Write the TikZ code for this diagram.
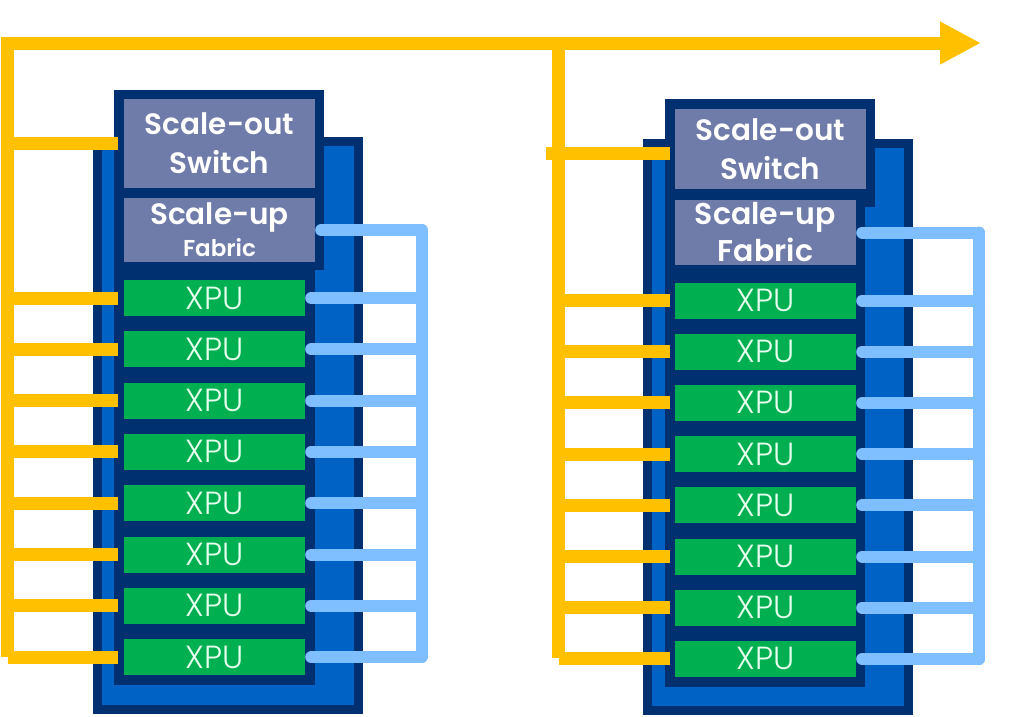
\documentclass[tikz,border=0pt]{standalone}
\usepackage{fontspec}
\setmainfont{Poppins}
\newfontfamily\semib{Poppins SemiBold}
\newfontfamily\lightf{Poppins Light}
\usetikzlibrary{arrows.meta}
\definecolor{ygold}{HTML}{FFC000}
\definecolor{navy}{HTML}{003070}
\definecolor{rackblue}{HTML}{0062C4}
\definecolor{slate}{HTML}{6F7BA8}
\definecolor{xgreen}{HTML}{00B050}
\definecolor{lblue}{HTML}{80BFFF}
\definecolor{xtext}{HTML}{E6FFEE}
\begin{document}
\begin{tikzpicture}[x=1pt,y=-1pt,
  ctl/.style={fill=slate, text=white, inner sep=0pt, align=center, font=\semib\fontsize{29.5}{39}\selectfont},
  xpu/.style={fill=xgreen, text=xtext, inner sep=0pt, minimum width=181pt, minimum height=36pt, font=\lightf\fontsize{32}{36}\selectfont},
  ybus/.style={draw=ygold, line width=13pt},
  bbus/.style={draw=lblue, line width=12pt, line cap=round},
]
\useasboundingbox (0,0) rectangle (1024,716);
% racks
\fill[navy] (93,137) rectangle (363,714);
\fill[rackblue] (102,146) rectangle (354,705);
\fill[navy] (114,90) rectangle (324,270);
\fill[navy] (114,260) rectangle (315,685);
\fill[navy] (643,139) rectangle (913,715);
\fill[rackblue] (652,148) rectangle (904,706);
\fill[navy] (665,99) rectangle (875,207);
\fill[navy] (665,200) rectangle (865,687);
% nodes
\node[ctl, minimum width=191pt, minimum height=89pt] (LS) at (219.5,143.5) {Scale-out\\Switch};
\node[ctl, minimum width=191pt, minimum height=64pt] (LF) at (219.5,230) {Scale-up\\[-7pt]{\fontsize{23}{26}\selectfont Fabric}};
\node[ctl, minimum width=191pt, minimum height=80pt] (RS) at (770.5,149) {Scale-out\\Switch};
\node[ctl, minimum width=181pt, minimum height=65pt, font=\semib\fontsize{30}{37}\selectfont] (RF) at (765.5,232.5) {Scale-up\\Fabric};
\foreach \i in {1,...,8}{
  \node[xpu] (L\i) at (214.5,{298+51.3*(\i-1)}) {XPU};
  \node[xpu] (R\i) at (765.5,{300.5+51.2*(\i-1)}) {XPU};
}
% yellow scale-out network
\coordinate (ylb) at (7.5,657);
\coordinate (ytop) at (7.5,43);
\coordinate (yend) at (981,43);
\coordinate (yrt) at (558.5,43);
\coordinate (yrb) at (558.5,658);
\draw[ybus, -{Triangle[length=41pt,width=40pt]}] (ylb) -- (ytop) -- (yend);
\draw[ybus] (yrt) -- (yrb);
\draw[ybus, shorten <=6pt] (LS.west) -- (LS.west -| ylb);
\draw[ybus, shorten <=5pt, shorten >=-13pt] ([yshift=-4pt]RS.west) -- ([yshift=-4pt]RS.west -| yrb);
\foreach \i in {1,...,8}{
  \draw[ybus, shorten <=6pt] (L\i.west) -- (L\i.west -| ylb);
  \draw[ybus, shorten <=5pt] (R\i.west) -- (R\i.west -| yrb);
}
% blue scale-up network
\coordinate (lbt) at (421.5,230);
\coordinate (lbb) at (421.5,657);
\coordinate (rbt) at (979,232.5);
\coordinate (rbb) at (979,659);
\draw[bbus] (lbt) -- (lbb);
\draw[bbus] (rbt) -- (rbb);
\draw[bbus] ([xshift=6pt]LF.east) -- (LF.east -| lbt);
\draw[bbus] ([xshift=6pt]RF.east) -- (RF.east -| rbt);
\foreach \i in {1,...,8}{
  \draw[bbus] ([xshift=6pt]L\i.east) -- (L\i.east -| lbt);
  \draw[bbus] ([xshift=6pt]R\i.east) -- (R\i.east -| rbt);
}
\end{tikzpicture}
\end{document}
